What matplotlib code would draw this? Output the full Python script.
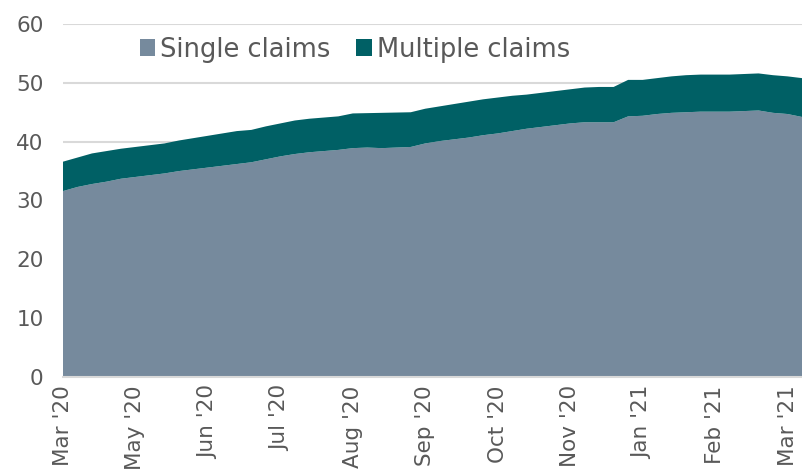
import matplotlib
matplotlib.use("Agg")
import matplotlib.pyplot as plt
from matplotlib.patches import Patch
import numpy as np

plt.rcParams['font.family'] = ['DejaVu Sans']

tick_labels = ["Mar '20", "May '20", "Jun '20", "Jul '20", "Aug '20", "Sep '20",
               "Oct '20", "Nov '20", "Jan '21", "Feb '21", "Mar '21"]
single = [31.6, 32.3, 32.8, 33.2, 33.7, 34.0, 34.3, 34.6, 35.0, 35.3,
          35.6, 35.9, 36.2, 36.5, 37.0, 37.5, 37.9, 38.2, 38.4, 38.6,
          38.9, 39.0, 38.9, 39.0, 39.1, 39.7, 40.1, 40.4, 40.7, 41.1,
          41.4, 41.8, 42.2, 42.5, 42.8, 43.1, 43.3, 43.3, 43.3, 44.3,
          44.4, 44.7, 44.9, 45.0, 45.1, 45.1, 45.1, 45.2, 45.3, 44.9,
          44.7, 44.2]
total = [36.6, 37.3, 38.0, 38.4, 38.8, 39.1, 39.4, 39.7, 40.2, 40.6,
         41.0, 41.4, 41.8, 42.0, 42.6, 43.1, 43.6, 43.9, 44.1, 44.3,
         44.8, 44.85, 44.9, 44.95, 45.0, 45.6, 46.0, 46.4, 46.8, 47.2,
         47.5, 47.8, 48.0, 48.3, 48.6, 48.9, 49.2, 49.3, 49.3, 50.5,
         50.5, 50.8, 51.1, 51.3, 51.4, 51.4, 51.4, 51.5, 51.6, 51.3,
         51.1, 50.8]
multiple = [round(t - s, 2) for t, s in zip(total, single)]

c_single = '#768a9d'
c_multi = '#006065'
txt = '#595959'

fig = plt.figure(figsize=(8.02, 4.76), dpi=100)
ax = fig.add_axes([63/802, 99/476, 739/802, (377-24)/476])
x = np.arange(len(single))
ax.stackplot(x, single, multiple, colors=[c_single, c_multi], linewidth=0)
ax.set_xlim(0, len(single) - 1)
ax.set_ylim(0, 60)
ax.set_yticks(range(0, 61, 10))
ax.yaxis.grid(True, color='#d9d9d9', linewidth=1.5)
ax.set_axisbelow(True)
ax.set_xticks(x[::5])
ax.set_xticklabels(tick_labels, rotation=90, fontsize=15.5, color=txt)
ax.tick_params(axis='y', labelsize=15.5, colors=txt, length=0, pad=14)
ax.tick_params(axis='x', length=0, pad=6)
for s in ['top', 'right', 'left']:
    ax.spines[s].set_visible(False)
ax.spines['bottom'].set_color('#d9d9d9')
ax.spines['bottom'].set_linewidth(1.5)

handles = [Patch(facecolor=c_single, label='Single claims'),
           Patch(facecolor=c_multi, label='Multiple claims')]
ax.legend(handles=handles, loc='upper center', bbox_to_anchor=(0.395, 1.03), ncol=2,
          frameon=False, fontsize=18.5, labelcolor=txt, handlelength=0.6,
          handleheight=0.6, handletextpad=0.2, columnspacing=1.0)
fig.savefig('out.png', dpi=100)
